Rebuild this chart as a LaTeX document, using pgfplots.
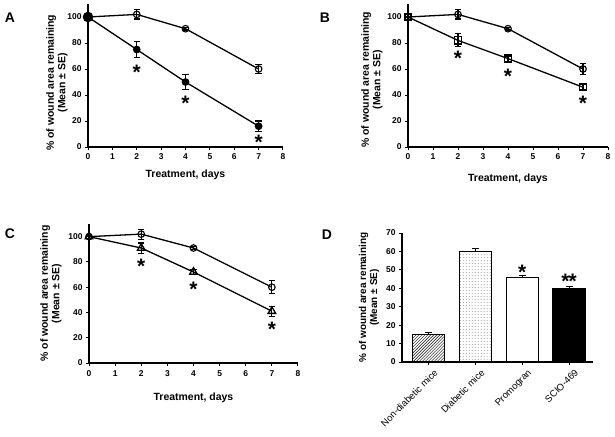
\documentclass[border=0pt]{standalone}
\usepackage{fontspec}
\setmainfont{Liberation Sans}
\usepackage{pgfplots}
\pgfplotsset{compat=1.18}
\usetikzlibrary{patterns}
\tikzset{st/.style={yshift=-4.5bp, inner sep=0pt}}
\pgfplotsset{
  base/.style={
    scale only axis,
    anchor=south west,
    axis x line*=bottom, axis y line*=left,
    axis line style={-, line width=1.1bp},
    tick align=outside, tick style={line width=1bp, black},
    major tick length=3bp,
    /pgf/number format/assume math mode=true,
    tick label style={font=\fontsize{8.5}{9}\selectfont\bfseries},
    label style={font=\fontsize{10.5}{11.5}\selectfont\bfseries},
    ylabel style={align=center},
    clip=false,
  },
  lineax/.style={base,
    xmin=0, xmax=8, ymin=0, ymax=110,
    xtick={0,...,8}, ytick={0,20,...,100},
    xlabel={Treatment, days},
    ylabel={\% of wound area remaining\\(Mean ± SE)},
    error bars/y dir=both, error bars/y explicit,
    error bars/error bar style={line width=1.1bp, black},
    error bars/error mark options={rotate=90, mark size=3.2bp, line width=1.1bp, black},
  },
  opc/.style={black, line width=1.3bp, mark=o, mark size=3.3bp, mark options={fill=white, line width=1.1bp}},
}
\newcommand{\sigstar}{\fontsize{21}{21}\selectfont\bfseries *}
\begin{document}
\begin{tikzpicture}
\path[use as bounding box] (0,0) rectangle (615bp,-437bp);
\node[font=\fontsize{14}{14}\selectfont\bfseries] at (10bp,-18bp) {A};
\node[font=\fontsize{14}{14}\selectfont\bfseries] at (325bp,-18bp) {B};
\node[font=\fontsize{14}{14}\selectfont\bfseries] at (10bp,-234bp) {C};
\node[font=\fontsize{14}{14}\selectfont\bfseries] at (327bp,-235bp) {D};
% ---------- A
\begin{axis}[lineax, at={(88bp,-147bp)}, width=195bp, height=143bp,
  ylabel style={at={(ticklabel cs:0.45)}}, ylabel shift=-7bp,
  xlabel style={yshift=-4bp}]
\addplot[opc] coordinates {(0,100) +- (0,0) (2,102) +- (0,3.5) (4,91) +- (0,1) (7,60) +- (0,3.5)};
\addplot[black, line width=1.3bp, mark=*, mark size=3.2bp] coordinates {(2,75) +- (0,6) (4,50) +- (0,6) (7,16) +- (0,4)};
\addplot[black, line width=1.3bp, mark=*, mark size=4.6bp, mark repeat=2] coordinates {(0,100) +- (0,0) (2,75) +- (0,0)};
\node[st] at (axis cs:2,61) {\sigstar};
\node[st] at (axis cs:4,37) {\sigstar};
\node[st] at (axis cs:7,7) {\sigstar};
\end{axis}
% ---------- B
\begin{axis}[lineax, at={(408bp,-147bp)}, width=200bp, height=143bp,
  ylabel style={at={(ticklabel cs:0.47)}}, ylabel shift=-2bp,
  xlabel style={yshift=-8bp}]
\addplot[opc] coordinates {(0,100) +- (0,0) (2,102) +- (0,3.5) (4,91) +- (0,1) (7,60) +- (0,4)};
\addplot[black, line width=1.3bp, mark=square, mark size=3.6bp, mark options={fill=white, line width=1.3bp}] coordinates {(0,100) +- (0,0) (2,82) +- (0,5) (4,68) +- (0,2) (7,46) +- (0,2)};
\node[st] at (axis cs:2,72) {\sigstar};
\node[st] at (axis cs:4,58) {\sigstar};
\node[st] at (axis cs:7,37) {\sigstar};
\end{axis}
% ---------- C
\begin{axis}[lineax, at={(89bp,-363bp)}, width=209bp, height=139bp,
  xlabel style={yshift=-10bp}, xticklabel style={yshift=-1bp}]
\addplot[opc] coordinates {(0,100) +- (0,0) (2,102) +- (0,4) (4,91) +- (0,1) (7,60) +- (0,5)};
\addplot[black, line width=1.3bp, mark=triangle, mark size=4.4bp, mark options={fill=white, line width=1.3bp}] coordinates {(0,100) +- (0,0) (2,91) +- (0,4) (4,72) +- (0,2) (7,41) +- (0,4)};
\node[st] at (axis cs:2,80) {\sigstar};
\node[st] at (axis cs:4,62) {\sigstar};
\node[st] at (axis cs:7,30) {\sigstar};
\end{axis}
% ---------- D
\begin{axis}[base, at={(402bp,-362bp)}, width=191bp, height=129bp,
  xmin=-0.57, xmax=3.51, ymin=0, ymax=70, ytick={0,10,...,70},
  xtick={0,1,2,3},
  xticklabels={Non-diabetic mice, Diabetic mice, Promogran, SCIO-469},
  xticklabel style={rotate=45, anchor=north east, inner sep=1bp, yshift=-5bp, xshift=2bp, font=\fontsize{9.5}{10}\selectfont},
  ylabel style={font=\fontsize{10}{11}\selectfont\bfseries},
  ylabel={\% of wound area remaining\\(Mean ± SE)},
  ybar, bar width=0.685, bar shift=0pt,
  error bars/y dir=plus, error bars/y explicit,
  error bars/error bar style={line width=1bp, black},
  error bars/error mark options={rotate=90, mark size=3.5bp, line width=1bp, black},
]
\addplot[draw=black, line width=1.3bp, fill=white, postaction={pattern=north east lines}] coordinates {(0,15) +- (0,1)};
\addplot[draw=black, line width=1.3bp, fill=white, postaction={pattern=dots, pattern color=black!45}] coordinates {(1,60) +- (0,1.5)};
\addplot[draw=black, line width=1.3bp, fill=white] coordinates {(2,46) +- (0,1)};
\addplot[draw=black, line width=1.3bp, fill=black] coordinates {(3,40) +- (0,1)};
\node[st] at (axis cs:2,51) {\sigstar};
\node[st] at (axis cs:3,46) {\sigstar\kern-1pt\sigstar};
\end{axis}
\end{tikzpicture}
\end{document}
